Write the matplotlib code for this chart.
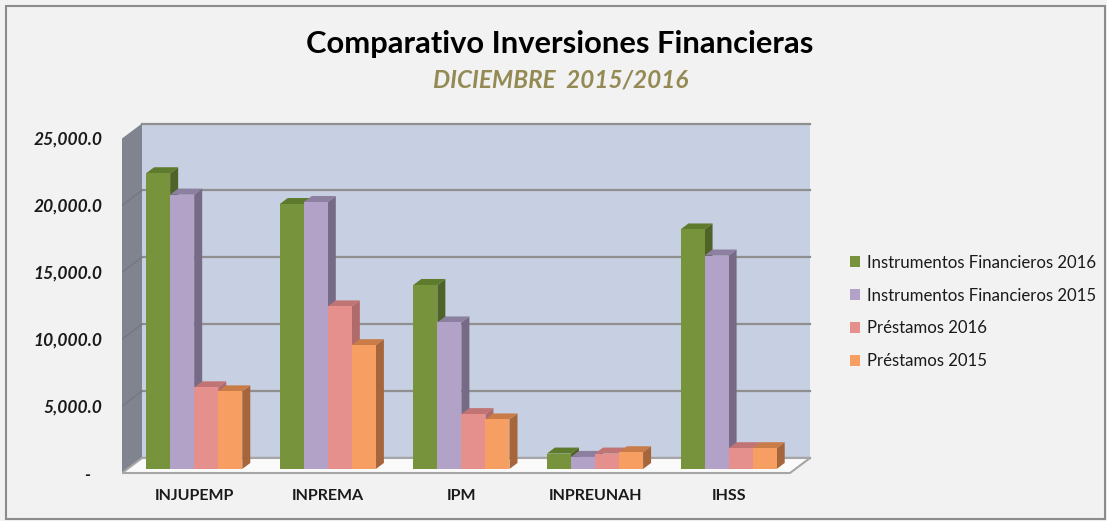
import matplotlib
matplotlib.use("Agg")
import matplotlib.pyplot as plt
from matplotlib.patches import Polygon, Rectangle

# data
categories = ["INJUPEMP", "INPREMA", "IPM", "INPREUNAH", "IHSS"]
series = ["Instrumentos Financieros 2016", "Instrumentos Financieros 2015",
          "Préstamos 2016", "Préstamos 2015"]
inst_2016 = [22100, 19800, 13750, 1150, 17900]
inst_2015 = [20500, 19950, 10950, 900, 15950]
prest_2016 = [6100, 12150, 4100, 1150, 1550]
prest_2015 = [5800, 9250, 3700, 1250, 1550]
yticks = [0, 5000, 10000, 15000, 20000, 25000]
ytick_labels = ["-   ", "5,000.0", "10,000.0", "15,000.0", "20,000.0", "25,000.0"]

values = [inst_2016, inst_2015, prest_2016, prest_2015]
front = ["#77933c", "#b3a2c7", "#e6908e", "#f79e63"]
side = ["#4f6228", "#766a86", "#b06a6a", "#a6653a"]
top = ["#5e7a2c", "#8c7fa0", "#c07474", "#c97c48"]

W, H, DPI = 1107, 521, 100
PX_X = 133.6          # pixels per category
PX_Y = 13.38 / 1000   # pixels per value unit
DXc = 20 / PX_X       # full depth of the box, data units
DYv = 15 / PX_Y
f = 0.27              # bars start this far into the depth
bd = 0.4              # bar depth fraction

fig = plt.figure(figsize=(W / DPI, H / DPI), dpi=DPI, facecolor="#f2f2f2")
x0, x1 = -0.5, 4.7
y0, y1 = -600, 27000
left_px, bot_px = 122, 473 + 600 * PX_Y
ax = fig.add_axes([left_px / W, (H - bot_px) / H,
                   (x1 - x0) * PX_X / W, (y1 - y0) * PX_Y / H])
ax.set_xlim(x0, x1)
ax.set_ylim(y0, y1)
ax.set_facecolor("none")
for s in ax.spines.values():
    s.set_visible(False)

ymax = yticks[-1]
# back wall + gridlines
ax.add_patch(Polygon([(-0.5 + DXc, DYv), (4.5 + DXc, DYv), (4.5 + DXc, ymax + DYv),
                      (-0.5 + DXc, ymax + DYv)], closed=True, fc="#c7d0e2", ec="none", zorder=1))
for v in yticks:
    ax.plot([-0.5 + DXc, 4.5 + DXc], [v + DYv, v + DYv], color="#8f8f8f", lw=1.6, zorder=2)
# side wall
ax.add_patch(Polygon([(-0.5, 0), (-0.5 + DXc, DYv), (-0.5 + DXc, ymax + DYv), (-0.5, ymax)],
                     closed=True, fc="#80848f", ec="none", zorder=3))
for v in yticks[1:-1]:
    ax.plot([-0.5, -0.5 + DXc], [v, v + DYv], color="#747884", lw=1, zorder=3)
# floor
ax.add_patch(Polygon([(-0.5, 0), (4.5, 0), (4.5 + DXc, DYv), (-0.5 + DXc, DYv)],
                     closed=True, fc="#fafafa", ec="#a6a6a6", lw=1.5, zorder=3))

# bars: front face via ax.bar, side and top faces as polygons
gw, bw = 0.72, 0.18
xs = list(range(len(categories)))
bx = [i + f * DXc for i in xs]
b0 = f * DYv
ddx, ddy = bd * DXc, bd * DYv
for j, vals in enumerate(values):
    pos = [b - gw / 2 + j * bw for b in bx]
    ax.bar(pos, vals, width=bw, bottom=b0, align="edge", color=front[j],
           edgecolor="none", zorder=5 + j * 0.01, label=series[j])
    for p, v in zip(pos, vals):
        ax.add_patch(Polygon([(p + bw, b0), (p + bw, b0 + v), (p + bw + ddx, b0 + v + ddy),
                              (p + bw + ddx, b0 + ddy)], closed=True, fc=side[j], ec="none",
                             zorder=5 + j * 0.01 - 0.001))
        ax.add_patch(Polygon([(p, b0 + v), (p + bw, b0 + v), (p + bw + ddx, b0 + v + ddy),
                              (p + ddx, b0 + v + ddy)], closed=True, fc=top[j], ec="none",
                             zorder=5 + j * 0.01 - 0.001))

ax.set_yticks(yticks)
ax.set_yticklabels(ytick_labels, fontfamily="Lato", fontweight="bold", fontstyle="italic",
                   fontsize=12.5, color="#1a1a1a")
ax.set_xticks(bx)
ax.set_xticklabels(categories, fontfamily="Lato", fontweight="bold", fontsize=11.5,
                   color="#1a1a1a")
ax.tick_params(axis="y", length=0, pad=14)
ax.tick_params(axis="x", length=0, pad=6)

fig.text(560 / W, 1 - 44 / H, "Comparativo Inversiones Financieras", ha="center", va="center",
         fontfamily="Lato", fontweight="bold", fontsize=22.2, color="black")
fig.text(561 / W, 1 - 80 / H, "DICIEMBRE  2015/2016", ha="center", va="center",
         fontfamily="Lato", fontweight="bold", fontstyle="italic", fontsize=17.5, color="#948a54")

handles = [Rectangle((0, 0), 1, 1, fc=c, ec="none") for c in front]
leg = fig.legend(handles, series, loc="upper left", bbox_to_anchor=(843 / W, 1 - 248 / H),
                 frameon=False, prop={"family": "Lato", "size": 12.1}, handlelength=0.6,
                 handleheight=0.6, handletextpad=0.45, labelspacing=1.0, borderaxespad=0)
for t in leg.get_texts():
    t.set_color("#1a1a1a")

fig.add_artist(Rectangle((6 / W, 2 / H), 1 - 8 / W, 1 - 8 / H, transform=fig.transFigure,
                         fill=False, ec="#8c8c8c", lw=1.5))

fig.savefig("out.png", dpi=DPI, facecolor=fig.get_facecolor())
